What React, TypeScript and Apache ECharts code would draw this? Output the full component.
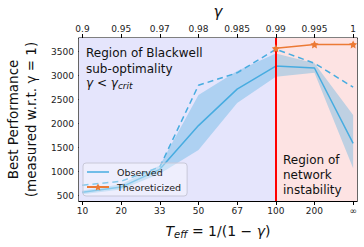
import React, { useEffect, useRef } from "react";
import * as echarts from "echarts";

const tickIdx = [0, 1, 2, 3, 4, 5, 6, 7];
const teffLabels = ["10", "20", "33", "50", "67", "100", "200", "∞"];
const gammaLabels = ["0.9", "0.95", "0.97", "0.98", "0.985", "0.99", "0.995", "1"];
const yTicks = [500, 1000, 1500, 2000, 2500, 3000, 3500];

const observed = [570, 680, 1050, 1960, 2720, 3200, 3160, 1590];
const observedLow = [530, 630, 960, 1450, 2430, 2980, 3060, 1070];
const observedHigh = [610, 740, 1130, 2600, 3100, 3460, 3260, 2180];
const observedBest = [720, 800, 1100, 2800, 3060, 3550, 3260, 2760];
const theoIdx = [5, 6, 7];
const theoretical = [3570, 3650, 3650];

const FONT = "DejaVu Sans";
const BLUE = "#47ace0";
const ORANGE = "#ec7a35";
const XMIN = -0.09;
const XMAX = 7.1;
const starPath =
  "path://M0,-10 L2.94,-4.05 9.51,-3.09 4.76,1.55 5.88,8.09 0,5 -5.88,8.09 -4.76,1.55 -9.51,-3.09 -2.94,-4.05 Z";
const lineIcon = "path://M0,0 L44,0 L44,3 L0,3 Z";

export default function App() {
  const ref = useRef<HTMLDivElement>(null);
  useEffect(() => {
    if (!ref.current) return;
    const chart = echarts.init(ref.current, null, { renderer: "svg" });
    const xAxisBase = (labels: string[], position: string) => ({
      type: "value",
      position,
      min: XMIN,
      max: XMAX,
      axisLine: { show: true, onZero: false, lineStyle: { color: "#000", width: 1.2 } },
      axisTick: { show: true, customValues: tickIdx, length: 4, lineStyle: { color: "#000" } },
      axisLabel: {
        customValues: tickIdx,
        formatter: (v: number) => labels[Math.round(v)],
        color: "#222",
        fontSize: 9,
        fontFamily: FONT,
        margin: 5,
      },
      splitLine: { show: false },
    });
    const option: any = {
      animation: false,
      grid: {
        left: 79,
        right: 7,
        top: 38,
        bottom: 46,
        containLabel: false,
        outerBoundsMode: "none",
        show: true,
        borderColor: "#000",
        borderWidth: 1.2,
        backgroundColor: "transparent",
      },
      xAxis: [
        {
          ...xAxisBase(teffLabels, "bottom"),
          name: "{t|T}{s|eff}{n| = 1/(1 − }{t|γ}{n|)}",
          nameLocation: "middle",
          nameGap: 21,
          nameTextStyle: {
            fontFamily: FONT,
            fontSize: 14,
            color: "#111",
            rich: {
              t: { fontFamily: FONT, fontSize: 14, fontStyle: "italic", color: "#111" },
              s: { fontFamily: FONT, fontSize: 10, fontStyle: "italic", color: "#111", padding: [7, 0, 0, 0] },
              n: { fontFamily: FONT, fontSize: 14, color: "#111" },
            },
          },
        },
        {
          ...xAxisBase(gammaLabels, "top"),
          name: "γ",
          nameLocation: "middle",
          nameGap: 18,
          nameTextStyle: { fontFamily: FONT, fontSize: 15, fontStyle: "italic", color: "#111" },
        },
      ],
      yAxis: {
        type: "value",
        min: 390,
        max: 3785,
        axisLine: { show: true, lineStyle: { color: "#000", width: 1.2 } },
        axisTick: { show: true, customValues: yTicks, length: 4, lineStyle: { color: "#000" } },
        axisLabel: {
          customValues: yTicks,
          formatter: (v: number) => String(Math.round(v)),
          color: "#222",
          fontSize: 9,
          fontFamily: FONT,
          margin: 5,
        },
        splitLine: { show: false },
        name: "Best Performance\n(measured w.r.t. γ = 1)",
        nameLocation: "middle",
        nameGap: 37,
        nameRotate: 90,
        nameTextStyle: { fontFamily: FONT, fontSize: 13.5, color: "#111", lineHeight: 18 },
      },
      legend: {
        left: 83,
        top: 163,
        orient: "vertical",
        data: [
          { name: "Observed", icon: lineIcon, itemStyle: { color: BLUE } },
          { name: "Theoreticized" },
        ],
        backgroundColor: "rgba(255,255,255,0.35)",
        borderColor: "#c8c8d8",
        borderWidth: 1,
        borderRadius: 3,
        padding: [4, 6, 4, 3],
        itemGap: 5,
        itemWidth: 22,
        itemHeight: 9,
        textStyle: { fontFamily: FONT, fontSize: 9.5, color: "#222", padding: [0, 0, 0, 3] },
      },
      graphic: [
        {
          type: "text",
          z: 100,
          left: 86,
          top: 45,
          style: { text: "Region of Blackwell\nsub-optimality", font: `12px "${FONT}"`, fill: "#111", lineHeight: 16 },
        },
        {
          type: "text",
          z: 100,
          left: 86,
          top: 77,
          style: {
            text: "{i|γ} < {i|γ}{s|crit}",
            font: `12px "${FONT}"`,
            fill: "#111",
            rich: {
              i: { fontFamily: FONT, fontSize: 12, fontStyle: "italic", fill: "#111" },
              s: { fontFamily: FONT, fontSize: 9, fontStyle: "italic", fill: "#111", padding: [5, 0, 0, 0] },
            },
          },
        },
        {
          type: "text",
          z: 100,
          left: 283,
          top: 152,
          style: { text: "Region of\nnetwork\ninstability", font: `12px "${FONT}"`, fill: "#111", lineHeight: 15 },
        },
      ],
      series: [
        {
          name: "bg",
          type: "line",
          z: 0,
          silent: true,
          symbol: "none",
          lineStyle: { opacity: 0 },
          data: tickIdx.map((x, i) => [x, observed[i]]),
          markArea: {
            silent: true,
            data: [
              [{ xAxis: XMIN, itemStyle: { color: "#e5e5fc" } }, { xAxis: 5 }],
              [{ xAxis: 5, itemStyle: { color: "#fde3e3" } }, { xAxis: XMAX }],
            ],
          },
        },
        {
          name: "band",
          type: "custom",
          z: 1,
          silent: true,
          data: [[0, observed[0]]],
          renderItem: (params: any, api: any) => {
            const up = observedHigh.map((v, i) => api.coord([tickIdx[i], v]));
            const lo = observedLow.map((v, i) => api.coord([tickIdx[i], v])).reverse();
            return {
              type: "polygon",
              shape: { points: up.concat(lo) },
              style: { fill: "rgba(71,172,224,0.35)" },
            };
          },
        },
        {
          name: "Best",
          type: "line",
          z: 2,
          symbol: "none",
          lineStyle: { color: BLUE, width: 1.5, type: [6, 4] },
          data: tickIdx.map((x, i) => [x, observedBest[i]]),
        },
        {
          name: "Observed",
          type: "line",
          z: 3,
          symbol: "none",
          color: BLUE,
          lineStyle: { color: BLUE, width: 1.5 },
          data: tickIdx.map((x, i) => [x, observed[i]]),
        },
        {
          name: "redline",
          type: "line",
          z: 4,
          data: [],
          markLine: {
            silent: true,
            symbol: "none",
            label: { show: false },
            lineStyle: { color: "#ff0000", width: 2, type: "solid" },
            data: [{ xAxis: 5 }],
          },
        },
        {
          name: "Theoreticized",
          type: "line",
          z: 5,
          symbol: starPath,
          symbolSize: 8,
          color: ORANGE,
          itemStyle: { color: ORANGE },
          lineStyle: { color: ORANGE, width: 1.5 },
          data: theoIdx.map((x, i) => [x, theoretical[i]]),
        },
      ],
    };
    chart.setOption(option);
    return () => chart.dispose();
  }, []);
  return <div ref={ref} style={{ width: 364, height: 247, position: "absolute", left: 0, top: 0 }} />;
}
